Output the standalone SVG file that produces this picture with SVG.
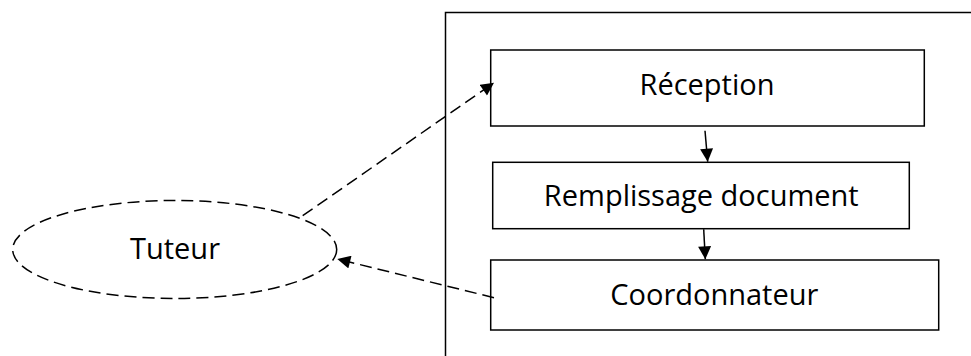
<svg xmlns="http://www.w3.org/2000/svg" width="971" height="356" viewBox="0 0 971 356">
<style>
.box{fill:#fff;stroke:#000;stroke-width:1.5}
.lbl{font-family:"Open Sans","Liberation Sans",sans-serif;font-size:29px;fill:#000;text-anchor:middle}
.dash{fill:none;stroke:#000;stroke-width:1.5;stroke-dasharray:12 6}
.solid{fill:none;stroke:#000;stroke-width:1.5}
</style>
<defs>
<marker id="ah" viewBox="0 0 10 10" refX="10" refY="5" markerWidth="14" markerHeight="13" markerUnits="userSpaceOnUse" orient="auto">
<path d="M0,0 L10,5 L0,10 Z" fill="#000"/>
</marker>
</defs>
<rect width="971" height="356" fill="#fff"/>
<g id="frame">
<path class="solid" d="M445.5,356 L445.5,12.5 L971,12.5"/>
</g>
<g id="tuteur">
<ellipse class="dash" cx="174.7" cy="249.5" rx="162" ry="49"/>
<text class="lbl" x="175" y="259">Tuteur</text>
</g>
<g id="reception">
<rect class="box" x="490.7" y="50" width="433.6" height="76"/>
<text class="lbl" x="707" y="94.5">Réception</text>
</g>
<g id="remplissage">
<rect class="box" x="492.7" y="162.3" width="416.6" height="66.4"/>
<text class="lbl" x="701.3" y="206">Remplissage document</text>
</g>
<g id="coordonnateur">
<rect class="box" x="490.7" y="260" width="448" height="70"/>
<text class="lbl" x="714.3" y="304.5">Coordonnateur</text>
</g>
<g id="connectors">
<line class="dash" x1="302.7" y1="215.7" x2="494" y2="82.7" marker-end="url(#ah)"/>
<line class="dash" x1="494" y1="297.7" x2="337.3" y2="259" marker-end="url(#ah)"/>
<line class="solid" x1="705" y1="130.7" x2="707.7" y2="161.7" marker-end="url(#ah)"/>
<line class="solid" x1="703.7" y1="229.3" x2="705.3" y2="259.3" marker-end="url(#ah)"/>
</g>
</svg>
